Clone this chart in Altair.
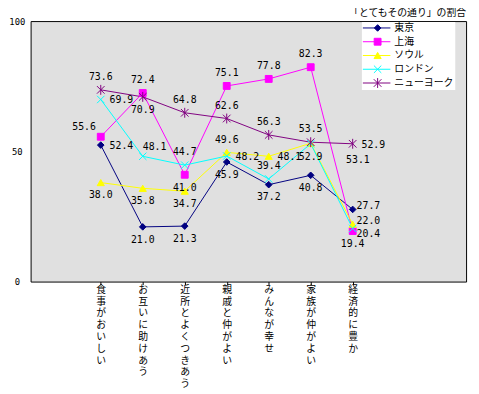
import altair as alt
import pandas as pd

categories = ["食事がおいしい", "お互いに助けあう", "近所とよくつきあう", "親戚と仲がよい",
              "みんなが幸せ", "家族が仲がよい", "経済的に豊か"]
series = ["東京", "上海", "ソウル", "ロンドン", "ニューヨーク"]

tokyo = [52.4, 21.0, 21.3, 45.9, 37.2, 40.8, 27.7]
shanghai = [55.6, 72.4, 41.0, 75.1, 77.8, 82.3, 19.4]
seoul = [38.0, 35.8, 34.7, 49.6, 48.1, 53.1, 22.0]
london = [69.9, 48.1, 44.7, 48.2, 39.4, 52.9, 20.4]
newyork = [73.6, 70.9, 64.8, 62.6, 56.3, 53.5, 52.9]
values = [tokyo, shanghai, seoul, london, newyork]

# label placement codes (layout, not data)
placements = [
    ["E", "S", "S", "S", "S", "S", "E2"],
    ["NW", "N", "S", "N", "N", "N", "S"],
    ["S", "S", "S", "N", "E", "FAR", "E2"],
    ["E", "NE", "N", "E", "N", "S", "SE2"],
    ["N", "S", "N", "N", "N", "N", "E"],
]
offsets = {
    "N": ("center", 0, -13),
    "S": ("center", 0, 13),
    "E": ("left", 9, 1),
    "E2": ("left", 4, -3),
    "SE2": ("left", 4, 6),
    "NW": ("center", -17, -10),
    "NE": ("center", 12, -9),
    "FAR": ("center", 48, 17),
}

colors = ["#000080", "#FF00FF", "#FFFF00", "#00FFFF", "#800080"]
shapes = ["diamond", "square", "triangle-up",
          "M-1,-1L1,1M-1,1L1,-1",
          "M-1,-1L1,1M-1,1L1,-1M0,-1.3L0,1.3"]
sizes = [45, 60, 70, 25, 32]

rows = []
for s, vals, pl in zip(series, values, placements):
    for c, v, p in zip(categories, vals, pl):
        rows.append({"series": s, "cat": c, "value": v, "pos": p, "label": f"{v:.1f}"})
df = pd.DataFrame(rows)
leg_df = pd.DataFrame({"series": series})

color_scale = alt.Scale(domain=series, range=colors)
shape_scale = alt.Scale(domain=series, range=shapes)
size_scale = alt.Scale(domain=series, range=sizes)

x_enc = alt.X("cat:N", sort=categories, scale=alt.Scale(range=[50, 349]),
              axis=alt.Axis(title=None, labelAngle=0,
                            labelExpr="split(datum.label, '')",
                            labelLineHeight=12, labelFont="Noto Sans CJK JP",
                            labelFontSize=10, labelColor="black",
                            tickSize=3, tickColor="black", domain=False,
                            labelPadding=0, labelBaseline="top"))
y_scale = alt.Scale(domain=[0, 100], nice=False, zero=True)
y_axis = alt.Axis(title=None, values=[0, 50, 100], grid=False, domain=False,
                  ticks=False, tickSize=0, labelPadding=14, labelAlign="center",
                  labelFont="DejaVu Sans Mono", labelFontSize=9, labelColor="black")
y_enc = alt.Y("value:Q", scale=y_scale, axis=y_axis)

base = alt.Chart(df)
lines = base.mark_line(strokeWidth=1).encode(
    x=x_enc, y=y_enc,
    color=alt.Color("series:N", scale=color_scale, legend=None),
)
points = base.mark_point(filled=True, strokeWidth=1, opacity=1).encode(
    x=x_enc, y=y_enc,
    fill=alt.Fill("series:N", scale=color_scale, legend=None),
    stroke=alt.Stroke("series:N", scale=color_scale, legend=None),
    shape=alt.Shape("series:N", scale=shape_scale, legend=None),
    size=alt.Size("series:N", scale=size_scale, legend=None),
)
text_layers = []
for code, (al, dx, dy) in offsets.items():
    text_layers.append(
        base.transform_filter(alt.datum.pos == code).mark_text(
            align=al, baseline="middle", dx=dx, dy=dy,
            font="DejaVu Sans Mono", fontSize=10, color="black"
        ).encode(x=x_enc, y=y_enc, text="label:N")
    )

main = alt.layer(lines, points, *text_layers)

leg_y = alt.Y("series:N", sort=series,
              scale=alt.Scale(type="point", range=[7, 63], padding=0), axis=None)
leg_base = alt.Chart(leg_df)
leg_box = alt.Chart(alt.Data(values=[{"a": 1}])).mark_rect(fill="white").encode(
    x=alt.value(337), x2=alt.value(432), y=alt.value(1), y2=alt.value(70))
leg_rule = leg_base.mark_rule(strokeWidth=1).encode(
    x=alt.value(338), x2=alt.value(366), y=leg_y,
    color=alt.Color("series:N", scale=color_scale, legend=None))
leg_pts = leg_base.mark_point(filled=True, strokeWidth=1, opacity=1).encode(
    x=alt.value(353), y=leg_y,
    fill=alt.Fill("series:N", scale=color_scale, legend=None),
    stroke=alt.Stroke("series:N", scale=color_scale, legend=None),
    shape=alt.Shape("series:N", scale=shape_scale, legend=None),
    size=alt.Size("series:N", scale=size_scale, legend=None))
leg_txt = leg_base.mark_text(align="left", baseline="middle", font="Noto Sans CJK JP",
                             fontSize=10, color="black").encode(
    x=alt.value(370), y=leg_y, text="series:N")
legend = alt.layer(leg_box, leg_rule, leg_pts, leg_txt)

chart = alt.layer(main, legend).resolve_scale(y="independent").properties(
    width=443, height=265,
    title=alt.TitleParams("「とてもその通り」の割合", anchor="end", fontSize=10,
                          font="Noto Sans CJK JP", fontWeight="normal", offset=-1,
                          color="black"),
    autosize=alt.AutoSizeParams(type="none"),
    padding={"left": 23, "top": 10, "right": 5, "bottom": 108},
    background="white",
).configure_view(fill="#E0E0E0", stroke="black", strokeWidth=1)

chart.save("out.html", embed_options={"renderer": "svg", "actions": False})
